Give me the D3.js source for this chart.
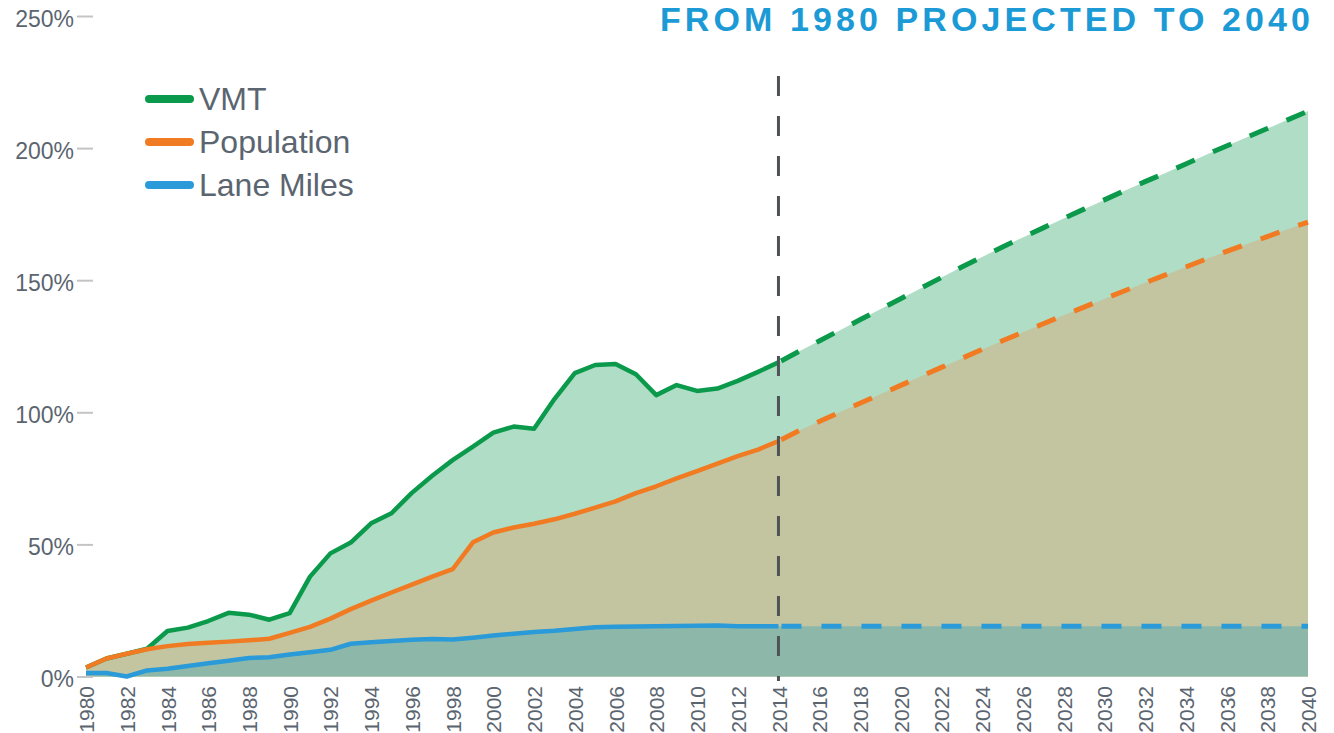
<!DOCTYPE html>
<html>
<head>
<meta charset="utf-8">
<script src="https://cdn.jsdelivr.net/npm/d3@7"></script>
<style>
  html, body { margin: 0; padding: 0; background: #ffffff; overflow: hidden; }
  svg { display: block; }
</style>
</head>
<body>
<svg id="chart" width="1334" height="733"></svg>
<script>
// ---------------- DATA ----------------
const histYears = [1980,1981,1982,1983,1984,1985,1986,1987,1988,1989,1990,1991,1992,1993,1994,1995,1996,1997,1998,1999,2000,2001,2002,2003,2004,2005,2006,2007,2008,2009,2010,2011,2012,2013,2014];
const projYears = [2014,2015,2016,2017,2018,2019,2020,2021,2022,2023,2024,2025,2026,2027,2028,2029,2030,2031,2032,2033,2034,2035,2036,2037,2038,2039,2040];

const vmtHist = [3.4,6.8,8.6,10.5,17.2,18.5,21,24.1,23.4,21.5,24,37.8,46.6,50.7,58,61.8,69.5,76,81.9,87,92.3,94.6,93.8,105,114.8,117.9,118.3,114.4,106.5,110.3,108.1,109,111.9,115.3,118.9];
const popHist = [3.4,6.8,8.6,10.3,11.5,12.3,12.8,13.2,13.7,14.3,16.5,18.8,21.9,25.5,28.7,31.8,34.8,37.8,40.6,50.8,54.5,56.4,57.8,59.5,61.6,63.9,66.3,69.4,72,75,77.7,80.6,83.4,85.9,89.1];
const laneHist = [1.3,1.3,0,2.3,2.9,4.0,5.0,6.0,7.0,7.3,8.3,9.2,10.1,12.4,13.0,13.4,13.9,14.2,14.0,14.7,15.5,16.2,16.8,17.3,18.0,18.6,18.8,18.9,19.0,19.1,19.2,19.3,19.0,19.0,19.0];

const vmtProj = [118.9,123,127,131,135,139,143,147,151,155,158.8,162.6,166.2,169.8,173.4,176.9,180.4,183.9,187.3,190.6,194,197.5,200.8,204.1,207.4,210.7,214];
const popProj = [89.1,93,96.5,100,103.4,106.8,110.2,113.6,117,120.4,123.8,127.1,130.3,133.5,136.7,139.8,142.9,146,149,152,155,158,160.9,163.7,166.5,169.3,172];
const laneProj = [19,19,19,19,19,19,19,19,19,19,19,19,19,19,19,19,19,19,19,19,19,19,19,19,19,19,19];

const yTicks = [0,50,100,150,200,250];
const xTickYears = [1980,1982,1984,1986,1988,1990,1992,1994,1996,1998,2000,2002,2004,2006,2008,2010,2012,2014,2016,2018,2020,2022,2024,2026,2028,2030,2032,2034,2036,2038,2040];
const splitYear = 2014;

const seriesNames = ["VMT","Population","Lane Miles"];
const titleText = "FROM 1980 PROJECTED TO 2040";

// ---------------- STYLE ----------------
const colors = { line: ["#0b9a4b","#f07b22","#2a9ad8"], fill: ["#b0ddc6","#c3c5a0","#8db8a9"] };
const textColor = "#5b6570";

// ---------------- SCALES ----------------
const svg = d3.select("#chart");
const x = d3.scaleLinear().domain([1980, 2040]).range([86, 1308]);
const y = d3.scaleLinear().domain([0, 250]).range([676.5, 16]);

function zip(years, vals) { return years.map((yr, i) => ({ year: yr, v: vals[i] })); }
const hist = [zip(histYears, vmtHist), zip(histYears, popHist), zip(histYears, laneHist)];
const proj = [zip(projYears, vmtProj), zip(projYears, popProj), zip(projYears, laneProj)];
const full = hist.map((h, i) => h.concat(proj[i].slice(1)));

const area = d3.area().x(d => x(d.year)).y0(y(0)).y1(d => y(d.v)).curve(d3.curveLinear);
const line = d3.line().x(d => x(d.year)).y(d => y(d.v)).curve(d3.curveLinear);

// areas
const gA = svg.append("g");
full.forEach((s, i) => {
  gA.append("path").datum(s).attr("d", area).attr("fill", colors.fill[i]);
});

// lines
const gL = svg.append("g").attr("fill", "none").attr("stroke-linejoin", "round");
hist.forEach((s, i) => {
  gL.append("path").datum(s).attr("d", line)
    .attr("stroke", colors.line[i]).attr("stroke-width", 4.5).attr("stroke-linecap", "butt");
});
proj.forEach((s, i) => {
  gL.append("path").datum(s).attr("d", line)
    .attr("stroke", colors.line[i]).attr("stroke-width", 5)
    .attr("stroke-dasharray", "20 20").attr("stroke-dashoffset", -3);
});

// y axis
const yAxis = d3.axisLeft(y).tickValues(yTicks).tickFormat(d => d + "%").tickSize(0).tickPadding(0);
const gY = svg.append("g").attr("transform", "translate(86,0)").call(yAxis);
gY.select(".domain").remove();
gY.selectAll(".tick text").remove();
gY.selectAll(".tick").append("line")
  .attr("x1", -9).attr("x2", 7).attr("y1", 0).attr("y2", 0)
  .attr("stroke", "#c4c4c4").attr("stroke-width", 2);
gY.selectAll(".tick").append("text")
  .attr("x", -12).attr("y", 10)
  .attr("text-anchor", "end")
  .attr("fill", textColor)
  .style("font-family", "'Liberation Sans', Arial, sans-serif")
  .style("font-size", "23px")
  .text(d => d + "%");

// x axis
const xAxis = d3.axisBottom(x).tickValues(xTickYears).tickFormat(d3.format("d")).tickSize(0);
const gX = svg.append("g").attr("transform", "translate(0,686)").call(xAxis);
gX.select(".domain").remove();
gX.selectAll(".tick text")
  .attr("transform", "rotate(-90)")
  .attr("x", 0).attr("y", 0).attr("dy", "0.36em")
  .attr("text-anchor", "end")
  .attr("fill", textColor)
  .style("font-family", "'Liberation Sans', Arial, sans-serif")
  .style("font-size", "21px");

// vertical divider
svg.append("line")
  .attr("x1", x(splitYear)).attr("x2", x(splitYear))
  .attr("y1", 76).attr("y2", 681)
  .attr("stroke", "#4f5357").attr("stroke-width", 3)
  .attr("stroke-dasharray", "20 20");

// legend
const legend = svg.append("g");
seriesNames.forEach((name, i) => {
  const ly = 99 + i * 43;
  legend.append("line")
    .attr("x1", 149).attr("x2", 190).attr("y1", ly).attr("y2", ly)
    .attr("stroke", colors.line[i]).attr("stroke-width", 8).attr("stroke-linecap", "round");
  legend.append("text")
    .attr("x", 199).attr("y", ly + 11)
    .attr("fill", textColor)
    .style("font-family", "'Liberation Sans', Arial, sans-serif")
    .style("font-size", "32px")
    .text(name);
});

// title
svg.append("text")
  .attr("x", 660).attr("y", 31)
  .attr("textLength", 650).attr("lengthAdjust", "spacing")
  .attr("fill", "#1b9ad6")
  .style("font-family", "'Liberation Sans', Arial, sans-serif")
  .style("font-weight", "bold")
  .style("font-size", "34px")
  .text(titleText);
</script>
</body>
</html>
